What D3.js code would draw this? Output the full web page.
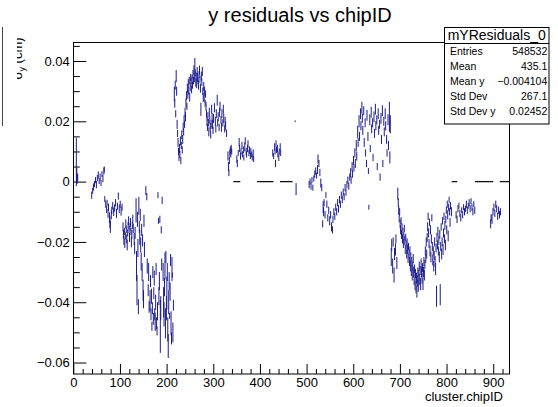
<!DOCTYPE html>
<html><head><meta charset="utf-8">
<script src="https://cdn.jsdelivr.net/npm/d3@7"></script>
<style>
html,body{margin:0;padding:0;background:#fff;}
svg{display:block;font-family:"Liberation Sans",Arial,Helvetica,sans-serif;}
</style></head><body>
<svg id="chart" width="558" height="407"></svg>
<script>
// Profile bins: [chipID, mean y residual (cm), error on the mean (cm)]
const binsInnerA = [
  [6,.0065,.008],[7,.002,.0025],[8,.0008,.0015],[9,.0015,.0012],
  [39,-.0045,.0012],[41,-.003,.001],[43,-.0018,.0012],[45,-.0008,.001],[47,.0005,.001],[49,-.001,.0012],[51,.0012,.001],[53,.0022,.0012],[55,.0002,.001],[57,.0015,.0012],[59,-.0005,.001],[61,.0025,.001],[63,.001,.0012],[65,.0035,.0012],[66,.004,.001],
  [67,-.0058,.001],[69,-.0075,.0012],[71,-.0092,.0012],[72,-.007,.001],[74,-.0105,.0015],[75,-.0085,.0012],[77,-.012,.0018],[78,-.0135,.002],[79,-.015,.002],[81,-.011,.0015],[82,-.0095,.0012],[84,-.008,.0012],[86,-.01,.0014],[88,-.0088,.0012],[90,-.007,.0012],[92,-.0105,.0015],[94,-.0082,.0012],[96,-.0048,.0012],[98,-.009,.0014],[100,-.0075,.0012],[102,-.0098,.0015],[104,-.0085,.0012],
  [106,-.015,.0015],[107,-.0175,.0015],[108,-.0195,.0015],[109,-.0165,.0012],[110,-.0205,.0015],[111,-.018,.0012],[112,-.014,.0015],[113,-.0158,.0012],[114,-.019,.0015],[115,-.021,.0018],[116,-.017,.0012],[117,-.0145,.0012],[118,-.013,.0015],[119,-.016,.0012],[120,-.0185,.0015],[121,-.015,.0012],[122,-.0135,.0015],[123,-.0165,.0012],[124,-.02,.0018],[125,-.0175,.0015],[126,-.0145,.0012],[127,-.0125,.0015],[128,-.0155,.0015],[130,-.019,.002],[131,-.022,.002],[132,-.017,.002]
];
const binsInnerB = [
  [134,-.0095,.004],[135,-.028,.005],[136,-.036,.005],[137,-.0125,.0025],[138,-.022,.003],[139,-.0415,.0025],[140,-.008,.003],
  [141,-.015,.002],[142,-.0185,.0025],[143,-.011,.002],[144,-.021,.0025],[145,-.0265,.003],[146,-.016,.002],[147,-.03,.003],[148,-.0195,.002],[149,-.036,.0035],[150,-.039,.003],[151,-.013,.002],[152,-.0225,.0025],
  [155,-.003,.0015],[157,-.005,.0012],
  [158,-.028,.0025],[160,-.036,.002],[161,-.03,.003],[162,-.0415,.002],[164,-.0395,.0035],[165,-.033,.002],[166,-.044,.002],[167,-.038,.0025],[168,-.048,.0015],[169,-.042,.002],[170,-.03,.002],[171,-.0455,.002],[172,-.037,.002],[173,-.032,.0025],[174,-.044,.002],[175,-.0465,.003],[176,-.04,.0025],[177,-.029,.002],[178,-.047,.002],[179,-.0495,.0015],[180,-.043,.003],[181,-.0045,.001],[182,-.013,.001],[183,-.038,.003],[184,-.033,.003],[185,-.0125,.0012],[186,-.048,.0088],[187,-.042,.004],[188,-.016,.0012],[189,-.0275,.002],[190,-.0062,.0012],[192,-.03,.003],[193,-.04,.005],[194,-.044,.004],[195,-.035,.003],[196,-.028,.0045],[197,-.047,.005],[198,-.025,.002],[199,-.042,.004],[200,-.037,.0055],[201,-.03,.003],[202,-.049,.004],[203,-.0545,.004],[204,-.04,.004],[205,-.033,.003],[206,-.0445,.001],[207,-.0365,.003],[208,-.026,.002],[209,-.047,.004],[210,-.052,.002],[211,-.029,.004],[212,-.031,.0008],[213,-.05,.0033],[214,-.041,.0018]
];
const binsMiddle = [
  [216,.029,.0025],[217,.026,.0015],[218,.032,.0015],[219,.0225,.0012],[220,.035,.002],[221,.03,.0015],[222,.019,.0015],[223,.016,.0012],[224,.013,.0015],[225,.01,.0012],[226,.008,.0012],[227,.011,.0015],[228,.009,.0012],[229,.0135,.0015],[230,.007,.0012],[231,.012,.0012],[232,.0155,.0015],[233,.0105,.0012],[234,.014,.0015],[235,.018,.0015],[236,.0165,.0012],[237,.0205,.0015],[238,.019,.0012],[239,.023,.0015],[240,.0215,.0015],[241,.026,.0015],[242,.0285,.0015],[243,.025,.0012],[244,.031,.0015],[245,.029,.0015],[246,.0325,.0015],[247,.03,.0012],[248,.0335,.0012],[249,.028,.0015],[250,.0315,.0015],[251,.0345,.0012],[252,.033,.0015],[253,.0305,.0012],[254,.034,.0015],[255,.032,.0012],[256,.0355,.0015],[257,.0335,.0012],[258,.037,.0015],[259,.0345,.0015],[260,.0385,.0025],[261,.036,.0012],[262,.033,.0015],[263,.035,.0012],[264,.0325,.0015],[265,.0365,.0015],[266,.0345,.0015],[267,.0335,.0012],[268,.032,.0015],[269,.0355,.0012],[270,.037,.0015],[271,.034,.0012],[272,.031,.0015],[273,.024,.0022],[274,.035,.0015],[275,.033,.0012],[276,.0365,.0015],[277,.03,.0012],[278,.028,.0015],[279,.0315,.0015],[280,.0275,.0012],[281,.03,.0015],[282,.026,.0012],[283,.029,.0012],[284,.025,.0015],[285,.0225,.0012],[286,.02,.0015],[287,.018,.0012],[288,.0215,.0015],[289,.0195,.0012],[290,.0165,.0015],[291,.023,.0015],[292,.0205,.0012],[293,.018,.0015],[294,.0155,.0012],[295,.019,.0015],[296,.024,.0015],[297,.0215,.0012],[298,.019,.0015],[299,.017,.0012],[300,.021,.0015],
  [302,.0245,.0015],[304,.02,.0015],[305,.0175,.0012],[306,.0225,.0015],[308,.027,.0018],[309,.0195,.0012],[310,.0215,.0015],[312,.018,.0012],[313,.023,.0015],[314,.025,.0015],[316,.0205,.0012],[317,.018,.0015],[318,.0225,.0015],[320,.0195,.0012],[321,.024,.0015],[322,.021,.0015],[324,.0175,.0012],[325,.02,.0015],[326,.0185,.0015],[328,.016,.0012],
  [331,.0085,.0015],[332,.005,.0015],[333,.003,.0012],[334,.007,.0012],[335,.0095,.0012],[336,.0105,.0012],[337,.009,.001],[338,.011,.0012],[339,.01,.001],
  [350,.0075,.0012],[351,.006,.0012],[353,.0095,.001],[355,.013,.0015],[356,.011,.0012],[358,.0085,.0012],[359,.01,.001],[361,.012,.0012],[362,.009,.001],[364,.0105,.0012],[365,.008,.001],[367,.0115,.0015],[368,.0135,.0012],[370,.01,.0012],[371,.009,.001],[373,.011,.0012],[374,.0125,.0012],[376,.0095,.001],[377,.0105,.0012],[379,.0085,.001],[380,.01,.0012],[382,.009,.001],[383,.008,.001],[385,.0095,.0012],[386,.0075,.001],
  [427,.0095,.0012],[429,.0085,.001],[431,.0115,.0012],[432,.01,.001],[433,.006,.0012],[434,.0125,.0012],[435,.0105,.001],[437,.011,.0012],[438,.009,.001],[440,.008,.0012],[441,.01,.001],[443,.0115,.0012],[444,.0095,.001],
  [475,.02,.0003],[477,-.0025,.002]
];
const binsOuterA = [
  [505,-.001,.0012],[507,0,.001],[509,-.0015,.0012],[511,.0005,.001],[513,-.002,.001],[515,.001,.001],[517,.0025,.0012],[519,.0035,.0012],[521,.002,.001],[523,.004,.0015],[524,.0075,.0015],[526,.006,.0012],[528,.003,.0012],[530,-.0005,.0015],[532,-.002,.0012],
  [534,-.014,.0012],[535,-.0085,.002],[536,-.01,.0015],[537,-.007,.0012],[539,-.011,.0012],[541,-.0045,.001],[543,-.0075,.0012],[545,-.012,.0012],[547,-.0095,.0012],[549,-.013,.0015],[551,-.011,.0012],[553,-.015,.0015],[555,-.016,.0012],[556,-.0125,.0012],[558,-.01,.0012],[560,-.0115,.0012],[562,-.0085,.0012],[564,-.01,.0012],[566,-.007,.0012],[568,-.009,.0012],[570,-.006,.0012],[572,-.0075,.0012],[574,-.0045,.0012],[576,-.006,.0012],[578,-.0035,.0012],[580,-.005,.0012],[582,-.002,.0012],[584,-.0035,.0012],[586,-.001,.0012],[588,.0005,.0012],[590,-.0015,.0012],[592,.0015,.0012],[594,.003,.0015],[595,.0005,.0012],[597,.005,.0015],[598,.0025,.0012],[600,.007,.0015],[601,.0045,.0012],[603,.0095,.0015],[604,.006,.0015],[606,.012,.0018],[607,.0085,.0015],[609,.0165,.002],[610,.013,.0015],[612,.02,.002],[613,.015,.0015],[615,.0225,.0018],[616,.0185,.0015],[618,.0245,.002],[619,.021,.0015],[620,.017,.0015],[622,.0235,.0015],[623,.013,.0015],[625,.0195,.0015],[626,.0095,.0012],[628,.006,.0012],[629,.022,.0018],[631,.015,.0015],[632,.0035,.001],[633,-.0085,.0008],[635,.0205,.0018],[636,.011,.0012],[638,.023,.0018],[639,.0175,.0015],[641,.0195,.0015],[642,.008,.0012],[644,.0215,.0018],[645,.016,.0015],[647,.024,.0018],[648,.0185,.0015],[650,.0205,.0015],[651,.005,.0012],[653,.0225,.0018],[654,.017,.0015],[656,.019,.0015],[657,.0015,.0012],[659,.021,.0018],[660,.014,.0015],[662,.0235,.0018],[663,.006,.0012],[665,.02,.0015],[666,.0165,.0015],[668,.0225,.0018],[669,.0185,.0015],[671,.014,.0015],[672,.0095,.0012],[674,.0205,.0018],[675,.012,.0015],[677,.0215,.005],[678,.008,.002],[679,.019,.003]
];
const binsOuterB = [
  [681,-.025,.003],[682,-.021,.002],[684,-.028,.0025],[685,-.02,.0015],[687,-.031,.0025],[688,-.024,.002],[690,-.0225,.002],[691,-.019,.0015],[693,-.027,.002],[695,-.004,.002],[696,-.007,.0015],[697,-.0095,.0015],[698,-.012,.0015],[699,-.01,.0012],[700,-.014,.0015],[701,-.016,.0015],[702,-.013,.0012],[703,-.0175,.0015],[704,-.015,.0012],[705,-.019,.0015],[706,-.0165,.0012],[707,-.0205,.0015],[708,-.018,.0012],[709,-.0155,.0012],[710,-.0195,.0015],[711,-.0225,.0015],[712,-.0185,.0012],[713,-.021,.0015],[714,-.024,.0015],[715,-.02,.0012],[716,-.0225,.0015],[717,-.0255,.0015],[718,-.0215,.0012],[719,-.024,.0015],[720,-.0265,.0015],[721,-.023,.0015],[722,-.028,.0018],[723,-.025,.0015],[724,-.0295,.0018],[725,-.0265,.0015],[726,-.031,.0018],[727,-.028,.0015],[728,-.0255,.0015],[729,-.03,.0018],[730,-.0325,.0018],[731,-.029,.0015],[732,-.034,.002],[733,-.0305,.0015],[734,-.035,.002],[735,-.032,.0018],[736,-.0365,.002],[737,-.033,.0018],[738,-.03,.0015],[739,-.0345,.002],[740,-.031,.0018],[741,-.028,.0015],[742,-.0325,.0018],[743,-.0295,.0015],[744,-.034,.002],[745,-.027,.0015],[746,-.03,.0018],[747,-.032,.0018],[748,-.0285,.0015],[749,-.034,.002],[750,-.03,.0018],[751,-.0265,.0015],[752,-.031,.0018],[753,-.0275,.0015],[754,-.023,.0015],[755,-.0255,.0015],[756,-.02,.0015],[757,-.024,.0015],[758,-.0185,.0015],[759,-.015,.0015],[760,-.0115,.0012],[761,-.017,.0015],[762,-.0205,.0015],[763,-.0135,.0012],[764,-.023,.0018],[765,-.016,.0015],[766,-.025,.0018],[767,-.019,.0015],[768,-.012,.0012],[769,-.0215,.0015],[770,-.026,.0018],[771,-.023,.0015],[772,-.028,.0018],[773,-.0245,.0015],[774,-.02,.0015],[775,-.0265,.0018],[776,-.029,.002],[777,-.022,.0015],[778,-.038,.0035],[779,-.0185,.0015],[780,-.021,.0015],[781,-.0165,.0015],[782,-.023,.0015],[783,-.0195,.0015],[784,-.025,.0018],[785,-.0175,.0015],[786,-.0375,.0035],[787,-.0215,.0015],[788,-.015,.0012],[789,-.024,.0018],[790,-.02,.0015],[791,-.013,.0012],[792,-.0225,.0018],[793,-.017,.0015],[794,-.0115,.0012],[795,-.019,.0015],[796,-.0145,.0015],[797,-.021,.0018],[798,-.0125,.0012],[799,-.0095,.0012],[800,-.016,.0015],[801,-.0075,.0012],[802,-.011,.0015],[803,-.018,.0018],[804,-.0085,.0012],[805,-.006,.001],[806,-.01,.0012],[807,-.0135,.0015],[808,-.008,.0012],[810,-.01,.0015],
  [820,-.011,.0012],[822,-.0125,.0012],[824,-.009,.0012],[826,-.008,.001],[828,-.0105,.0012],[830,-.012,.0012],[832,-.0095,.001],[834,-.011,.0012],[836,-.0085,.001],[838,-.01,.0012],[840,-.009,.001],[842,-.0075,.0012],[844,-.0095,.0012],[846,-.008,.001],[848,-.007,.0012],[850,-.009,.0012],[852,-.0065,.001],[854,-.0085,.0012],[856,-.01,.0012],[858,-.0075,.001],[860,-.0095,.0012],
  [894,-.014,.0015],[895,-.012,.0012],[897,-.0125,.0015],[899,-.01,.0012],[901,-.0085,.0012],[903,-.0105,.0012],[905,-.0075,.0012],[907,-.009,.0012],[909,-.0115,.0012],[911,-.0095,.0012],[913,-.011,.0012],[915,-.01,.0012]
];
// Runs of empty bins, drawn at zero: [first chipID, last chipID]
const emptyRuns = [[343,357],[394,428],[443,469],[811,822],[861,899],[914,935]];

const xTicks = [0,100,200,300,400,500,600,700,800,900];
const yTicks = [-0.06,-0.04,-0.02,0,0.02,0.04];
const statLabels = ["Entries","Mean","Mean y","Std Dev","Std Dev y"];
const statValues = ["548532","435.1","\u22120.004104","267.1","0.02452"];
const histName = "mYResiduals_0";

const bins = [].concat(binsInnerA, binsInnerB, binsMiddle, binsOuterA, binsOuterB);

const svg = d3.select("#chart");
const frame = {left: 73.3, right: 510, top: 42, bottom: 374};
const x = d3.scaleLinear().domain([0, 936]).range([frame.left, frame.right]);
const y = d3.scaleLinear().domain([-0.0638, 0.0463]).range([frame.bottom, frame.top]);
const markColor = "#1c1c8c";

// left edge line from the neighbouring pad
svg.append("line").attr("x1", 2.5).attr("x2", 2.5).attr("y1", 27).attr("y2", 126)
  .attr("stroke", "#444").attr("stroke-width", 1);

// title
svg.append("text").attr("x", 300).attr("y", 22).attr("text-anchor", "middle")
  .attr("font-size", 20).attr("fill", "#000").text("y residuals vs chipID");

// frame
svg.append("rect").attr("x", 73.5).attr("y", 42.5).attr("width", 436).attr("height", 331.5)
  .attr("fill", "none").attr("stroke", "#000").attr("stroke-width", 1);

// y axis: major and minor ticks pointing into the frame
const yMinor = d3.range(-60, 46, 5).map(v => v / 1000).filter(v => !yTicks.some(t => Math.abs(t - v) < 1e-9));
svg.append("g").attr("transform", `translate(${frame.left},0)`)
  .call(d3.axisLeft(y).tickValues(yTicks).tickSize(-13).tickPadding(3.5)
    .tickFormat(d => d === 0 ? "0" : d3.format(".2f")(d)));
svg.append("g").attr("transform", `translate(${frame.left},0)`)
  .call(d3.axisLeft(y).tickValues(yMinor).tickSize(-6.5).tickFormat(""));

// x axis
const xMinor = d3.range(0, 936, 20).filter(v => v % 100 !== 0);
svg.append("g").attr("transform", `translate(0,${frame.bottom})`)
  .call(d3.axisBottom(x).tickValues(xTicks).tickSize(-10).tickPadding(4).tickFormat(d3.format("d")));
svg.append("g").attr("transform", `translate(0,${frame.bottom})`)
  .call(d3.axisBottom(x).tickValues(xMinor).tickSize(-5).tickFormat(""));

svg.selectAll(".domain").remove();
svg.selectAll(".tick line").attr("stroke", "#000");
svg.selectAll(".tick text").attr("font-size", 13).attr("fill", "#000")
  .attr("font-family", '"Liberation Sans",Arial,sans-serif');

// axis titles
svg.append("text").attr("x", 503).attr("y", 401).attr("text-anchor", "end")
  .attr("font-size", 13).attr("fill", "#000").text("cluster.chipID");

// y title sits partly outside the visible pad area
svg.append("clipPath").attr("id", "ytitleClip").append("rect")
  .attr("x", 17).attr("y", 0).attr("width", 40).attr("height", 200);
const yt = svg.append("g").attr("clip-path", "url(#ytitleClip)")
  .append("text").attr("transform", "translate(21.5,58.5) rotate(-90)")
  .attr("text-anchor", "middle").attr("font-size", 13).attr("fill", "#000");
yt.append("tspan").text("\u03c3");
yt.append("tspan").attr("font-size", 9).attr("dy", 3).text("y");
yt.append("tspan").attr("dy", -3).text(" (cm)");

// data
const plot = svg.append("g");
plot.selectAll("line.empty").data(emptyRuns).join("line").attr("class", "empty")
  .attr("x1", d => x(d[0])).attr("x2", d => x(d[1] + 1))
  .attr("y1", y(0)).attr("y2", y(0))
  .attr("stroke", "#111").attr("stroke-width", 1.3);

plot.selectAll("line.err").data(bins).join("line").attr("class", "err")
  .attr("x1", d => x(d[0] + 0.5)).attr("x2", d => x(d[0] + 0.5))
  .attr("y1", d => Math.min(y(d[1] + d[2]), y(d[1]) - 0.8))
  .attr("y2", d => Math.max(y(d[1] - d[2]), y(d[1]) + 0.8))
  .attr("stroke", markColor).attr("stroke-width", 1);

// stats box
const box = svg.append("g");
box.append("rect").attr("x", 444.5).attr("y", 27.5).attr("width", 104.5).attr("height", 96.5)
  .attr("fill", "#fff").attr("stroke", "#000").attr("stroke-width", 1);
box.append("line").attr("x1", 444.5).attr("x2", 549).attr("y1", 43.5).attr("y2", 43.5)
  .attr("stroke", "#000").attr("stroke-width", 1);
box.append("text").attr("x", 496.7).attr("y", 39.5).attr("text-anchor", "middle")
  .attr("font-size", 14).attr("fill", "#000").text(histName);
const rowY = d3.scaleLinear().domain([0, statLabels.length - 1]).range([54.5, 115.3]);
box.selectAll("text.lab").data(statLabels).join("text").attr("class", "lab")
  .attr("x", 450).attr("y", (d, i) => rowY(i)).attr("font-size", 10.5).attr("fill", "#000").text(d => d);
box.selectAll("text.val").data(statValues).join("text").attr("class", "val")
  .attr("x", 547.3).attr("y", (d, i) => rowY(i)).attr("text-anchor", "end")
  .attr("font-size", 10.5).attr("fill", "#000").text(d => d);
</script>
</body></html>
